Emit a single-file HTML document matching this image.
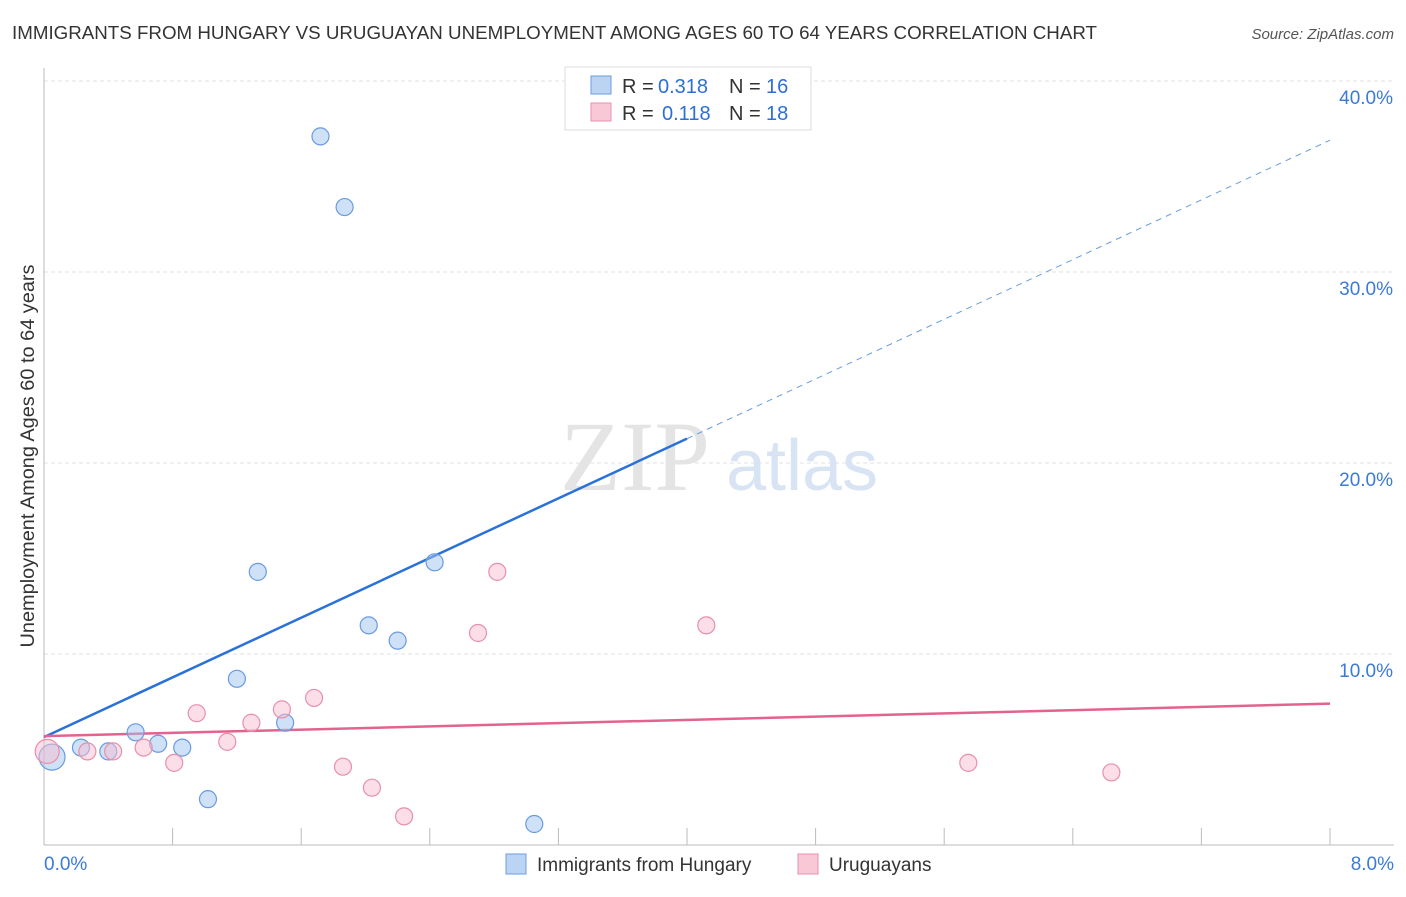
<!DOCTYPE html>
<html><head><meta charset="utf-8"><style>
body{margin:0;background:#fff;font-family:"Liberation Sans",sans-serif}
</style></head><body>
<svg width="1406" height="892" viewBox="0 0 1406 892" xmlns="http://www.w3.org/2000/svg">
<text x="12" y="39" font-size="18" fill="#333" textLength="1085" lengthAdjust="spacingAndGlyphs">IMMIGRANTS FROM HUNGARY VS URUGUAYAN UNEMPLOYMENT AMONG AGES 60 TO 64 YEARS CORRELATION CHART</text>
<text x="1394" y="39" font-size="15" fill="#555" font-style="italic" text-anchor="end">Source: ZipAtlas.com</text>
<g id="grid"></g>
<g><text x="635" y="490" font-size="100" fill="#e4e4e4" font-family="Liberation Serif,serif" text-anchor="middle">ZIP</text><text x="802" y="490" font-size="72" fill="#d8e4f4" text-anchor="middle">atlas</text></g>
<g id="axes"></g>
<g id="lines"></g>
<g id="pts"></g>
<text transform="translate(34,456) rotate(-90)" font-size="19" fill="#333" text-anchor="middle" textLength="383" lengthAdjust="spacingAndGlyphs">Unemployment Among Ages 60 to 64 years</text>
<g>
<rect x="565" y="67" width="246" height="63" fill="#fff" stroke="#ddd"/>
<rect x="591" y="76" width="20" height="18" fill="#bcd4f4" stroke="#6a9be0"/>
<text x="622" y="93" font-size="20" fill="#333">R =</text>
<text x="658" y="93" font-size="20" fill="#2d6fd6">0.318</text>
<text x="729" y="93" font-size="20" fill="#333">N =</text>
<text x="766" y="93" font-size="20" fill="#2d6fd6">16</text>
<rect x="591" y="103" width="20" height="18" fill="#f8c8d6" stroke="#e890aa"/>
<text x="622" y="120" font-size="20" fill="#333">R =</text>
<text x="662" y="120" font-size="20" fill="#2d6fd6">0.118</text>
<text x="729" y="120" font-size="20" fill="#333">N =</text>
<text x="766" y="120" font-size="20" fill="#2d6fd6">18</text>
</g>
<g>
<rect x="506" y="854" width="20" height="20" fill="#bcd4f4" stroke="#6a9be0"/>
<text x="537" y="871" font-size="19" fill="#333">Immigrants from Hungary</text>
<rect x="798" y="854" width="20" height="20" fill="#f8c8d6" stroke="#e890aa"/>
<text x="829" y="871" font-size="19" fill="#333">Uruguayans</text>
</g>
</svg>
<script>
const yTicks=[10,20,30,40];
const yTickLabels=["10.0%","20.0%","30.0%","40.0%"];
const xLabels=["0.0%","8.0%"];
const hungaryX=[0.05,0.23,0.40,0.57,0.71,0.86,1.02,1.20,1.33,1.50,1.72,1.87,2.02,2.20,2.43,3.05];
const hungaryY=[4.6,5.1,4.9,5.9,5.3,5.1,2.4,8.7,14.3,6.4,37.1,33.4,11.5,10.7,14.8,1.1];
const uruX=[0.02,0.27,0.43,0.62,0.81,0.95,1.14,1.29,1.48,1.68,1.86,2.04,2.24,2.70,2.82,4.12,5.75,6.64];
const uruY=[4.9,4.9,4.9,5.1,4.3,6.9,5.4,6.4,7.1,7.7,4.1,3.0,1.5,11.1,14.3,11.5,4.3,3.8];
const hungaryTrend=[5.65,36.9];
const uruTrend=[5.7,7.4];
const NS="http://www.w3.org/2000/svg";
const X=v=>44+v*160.75, Y=v=>845-v*19.1;
function mk(tag,attrs,parent){const e=document.createElementNS(NS,tag);for(const k in attrs)e.setAttribute(k,attrs[k]);document.getElementById(parent).appendChild(e);return e;}
yTicks.forEach((t,i)=>{
 const l=mk('line',{x1:44,x2:1394,y1:Y(t),y2:Y(t),stroke:'#e2e2e2','stroke-dasharray':'4,3'},'grid');
 
 
 const tx=mk('text',{x:1393,y:Y(t)+23,'font-size':19,fill:'#3b7ad8','text-anchor':'end'},'grid');
 tx.textContent=yTickLabels[i];
 
 
});
mk('line',{x1:44,x2:44,y1:68,y2:845,stroke:'#bbb'},'axes');
mk('line',{x1:44,x2:1394,y1:845,y2:845,stroke:'#bbb'},'axes');
for(let i=1;i<=10;i++){const t=mk('line',{x1:X(i*0.8),x2:X(i*0.8),y1:828,y2:845,stroke:'#bbb'},'axes');}
[[0,'start',44],[8,'end',1394]].forEach((a,i)=>{const t=mk('text',{x:a[2],y:870,'font-size':19,fill:'#3b7ad8','text-anchor':a[1]},'axes');t.textContent=xLabels[i];});
const split=4;
const ySplit=hungaryTrend[0]+(hungaryTrend[1]-hungaryTrend[0])*split/8;
const bl=mk('line',{x1:X(0),y1:Y(hungaryTrend[0]),x2:X(split),y2:Y(ySplit),stroke:'#2a72d8','stroke-width':2.5},'lines');


const bd=mk('line',{x1:X(split),y1:Y(ySplit),x2:X(8),y2:Y(hungaryTrend[1]),stroke:'#6a9be0','stroke-width':1,'stroke-dasharray':'6,5'},'lines');


const pl=mk('line',{x1:X(0),y1:Y(uruTrend[0]),x2:X(8),y2:Y(uruTrend[1]),stroke:'#e4628f','stroke-width':2.5},'lines');


hungaryX.forEach((x,i)=>{const c=mk('circle',{cx:X(x),cy:Y(hungaryY[i]),r:i==0?13:8.5,fill:'rgba(160,195,240,0.5)',stroke:'#6a9be0','stroke-width':1.2},'pts');});
uruX.forEach((x,i)=>{const c=mk('circle',{cx:X(x),cy:Y(uruY[i]),r:i==0?12:8.5,fill:'rgba(248,190,208,0.5)',stroke:'#e890aa','stroke-width':1.2},'pts');});
</script>
</body></html>
